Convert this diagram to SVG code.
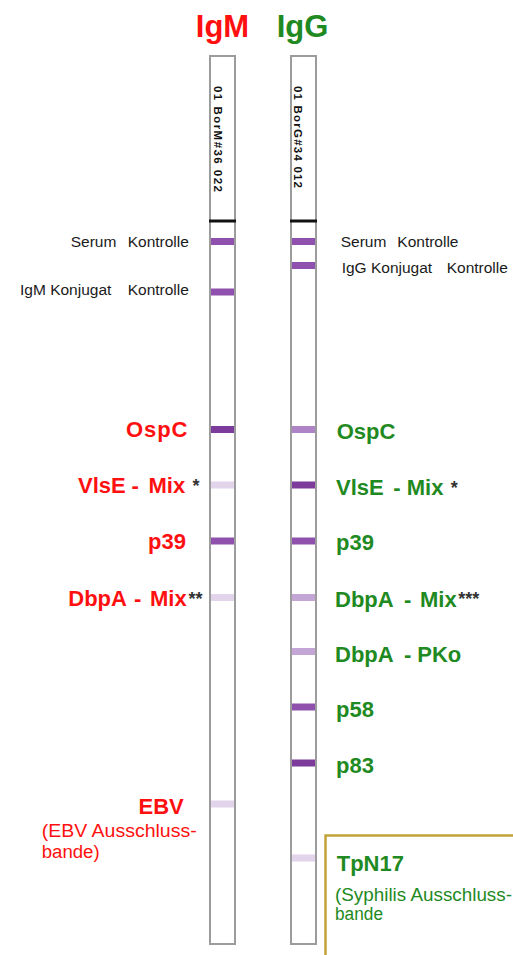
<svg xmlns="http://www.w3.org/2000/svg" width="513" height="955" viewBox="0 0 513 955">
<style>
.hdr{font-family:"Liberation Sans",Arial,sans-serif;font-weight:bold;font-size:31px;text-anchor:middle}
.red{fill:#FF1010}
.grn{fill:#1F8A22}
.sm{font-family:"Liberation Sans",Arial,sans-serif;font-size:15.5px;fill:#1a1a1a}
.lb{font-family:"Liberation Sans",Arial,sans-serif;font-weight:bold;font-size:22px}
.nt{font-family:"Liberation Sans",Arial,sans-serif;font-size:18px}
.ast{font-family:"Liberation Sans",Arial,sans-serif;font-weight:bold;font-size:18px;fill:#333}
.vt{font-family:"Liberation Sans",Arial,sans-serif;font-weight:bold;font-size:11.5px;fill:#111}
.strip{fill:#fff;stroke:#9c9c9c;stroke-width:2}
.blk{fill:#111}
.b1{fill:#7D3C9C}
.b2{fill:#9050AE}
.b3{fill:#AE84C6}
.b4{fill:#C4A6D6}
.b5{fill:#E2D4EB}
</style>

<g id="headers">
<text class="hdr red" x="222.5" y="37">IgM</text>
<text class="hdr grn" x="302.5" y="37">IgG</text>
</g>

<g id="strip-igm">
<rect class="strip" x="210" y="56" width="25" height="888"/>
<text class="vt" transform="translate(213.5,86) rotate(90)" textLength="106" lengthAdjust="spacing">01 BorM#36 022</text>
<rect class="blk" x="209" y="219.5" width="27" height="3"/>
<rect class="b2" x="211" y="238" width="23" height="7"/>
<rect class="b2" x="211" y="288.5" width="23" height="7"/>
<rect class="b1" x="211" y="426" width="23" height="7"/>
<rect class="b5" x="211" y="481.5" width="23" height="7"/>
<rect class="b2" x="211" y="537.5" width="23" height="7"/>
<rect class="b5" x="211" y="594" width="23" height="7"/>
<rect class="b5" x="211" y="800.5" width="23" height="7"/>
</g>

<g id="strip-igg">
<rect class="strip" x="291" y="56" width="25" height="888"/>
<text class="vt" transform="translate(293.5,86) rotate(90)" textLength="102" lengthAdjust="spacing">01 BorG#34 012</text>
<rect class="blk" x="290" y="219.5" width="27" height="3"/>
<rect class="b2" x="292" y="238" width="23" height="7"/>
<rect class="b2" x="292" y="262" width="23" height="7"/>
<rect class="b3" x="292" y="426" width="23" height="7"/>
<rect class="b1" x="292" y="481.5" width="23" height="7"/>
<rect class="b2" x="292" y="537.5" width="23" height="7"/>
<rect class="b4" x="292" y="594" width="23" height="7"/>
<rect class="b4" x="292" y="648" width="23" height="7"/>
<rect class="b2" x="292" y="703.5" width="23" height="7"/>
<rect class="b1" x="292" y="759.5" width="23" height="7"/>
<rect class="b5" x="292" y="854.5" width="23" height="7"/>
</g>

<g id="labels-igm">
<text class="sm" y="247"><tspan x="70.7">Serum</tspan><tspan x="127.7">Kontrolle</tspan></text>
<text class="sm" y="295"><tspan x="20">IgM Konjugat</tspan><tspan x="127.7">Kontrolle</tspan></text>
<text class="lb red" x="126" y="437" textLength="61.5" lengthAdjust="spacing">OspC</text>
<text class="lb red" y="493"><tspan x="78">VlsE</tspan><tspan x="131.5">-</tspan><tspan x="148.5">Mix</tspan></text>
<text class="ast" x="192.5" y="491.5">*</text>
<text class="lb red" x="186" y="549" text-anchor="end">p39</text>
<text class="lb red" y="605.5"><tspan x="68.3">DbpA</tspan><tspan x="134">-</tspan><tspan x="150">Mix</tspan></text>
<text class="ast" x="188.5" y="604.5">**</text>
<text class="lb red" x="138.5" y="814">EBV</text>
<text class="nt red" x="41.7" y="837" textLength="155" lengthAdjust="spacingAndGlyphs">(EBV Ausschluss-</text>
<text class="nt red" x="41.7" y="858" textLength="58" lengthAdjust="spacingAndGlyphs">bande)</text>
</g>

<g id="labels-igg">
<text class="sm" y="247"><tspan x="340.7">Serum</tspan><tspan x="397.3">Kontrolle</tspan></text>
<text class="sm" y="273"><tspan x="341.7">IgG Konjugat</tspan><tspan x="446.7">Kontrolle</tspan></text>
<text class="lb grn" x="336.7" y="439">OspC</text>
<text class="lb grn" y="495"><tspan x="336">VlsE</tspan><tspan x="393.3">-</tspan><tspan x="406.7">Mix</tspan></text>
<text class="ast" x="450.7" y="494">*</text>
<text class="lb grn" x="336" y="550">p39</text>
<text class="lb grn" y="607"><tspan x="335">DbpA</tspan><tspan x="404">-</tspan><tspan x="420">Mix</tspan></text>
<text class="ast" x="458.3" y="604.5">***</text>
<text class="lb grn" y="661.7"><tspan x="335">DbpA</tspan><tspan x="404">-</tspan><tspan x="417.3">PKo</tspan></text>
<text class="lb grn" x="336" y="717">p58</text>
<text class="lb grn" x="336" y="773">p83</text>
</g>

<g id="tpn17-box">
<rect x="325.5" y="835.5" width="220" height="160" fill="none" stroke="#C2A23A" stroke-width="2.5"/>
<text class="lb grn" x="336.7" y="870.7">TpN17</text>
<text class="nt grn" x="335" y="900.5" textLength="177" lengthAdjust="spacingAndGlyphs">(Syphilis Ausschluss-</text>
<text class="nt grn" x="335" y="919.5" textLength="48" lengthAdjust="spacingAndGlyphs">bande</text>
</g>

<g id="connectors"></g>
</svg>
